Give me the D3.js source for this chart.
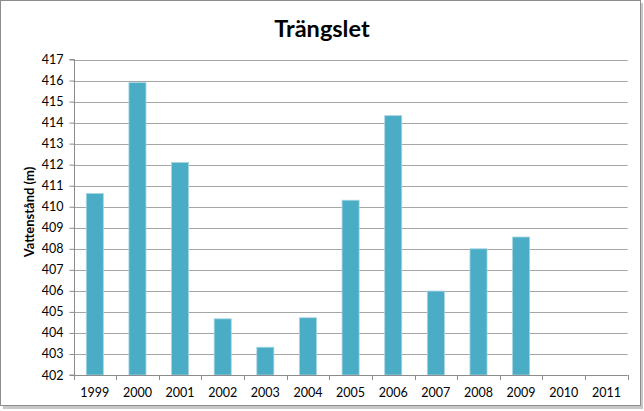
<!DOCTYPE html>
<html>
<head>
<meta charset="utf-8">
<script src="https://cdn.jsdelivr.net/npm/d3@7"></script>
<style>
  html, body { margin: 0; padding: 0; background: #fff; }
  svg { display: block; }
  text { font-family: Lato, "Open Sans", sans-serif; fill: #000; }
</style>
</head>
<body>
<svg id="chart" width="644" height="411"></svg>
<script>
const years = ["1999","2000","2001","2002","2003","2004","2005","2006","2007","2008","2009","2010","2011"];
const values = [410.63, 415.9, 412.1, 404.67, 403.32, 404.72, 410.31, 414.33, 405.99, 408.0, 408.56, null, null];
const yTicks = d3.range(402, 418, 1);
const title = "Trängslet";
const yTitle = "Vattenstånd (m)";

const svg = d3.select("#chart");

// frame with shadow
svg.append("rect").attr("x", 3).attr("y", 3).attr("width", 640).attr("height", 406).attr("fill", "#c8c8c8");
svg.append("rect").attr("x", 0.5).attr("y", 0.5).attr("width", 640).attr("height", 405)
  .attr("fill", "#fff").attr("stroke", "#8c8c8c").attr("stroke-width", 1);

const m = { left: 73.5, right: 627.7, top: 59.5, bottom: 375 };

const x = d3.scaleBand().domain(years).range([m.left, m.right]).paddingInner(0.6).paddingOuter(0.3);
const xb = d3.scaleBand().domain(years).range([m.left, m.right]);
const y = d3.scaleLinear().domain([402, 417]).range([m.bottom, m.top]);

// gridlines
svg.append("g").selectAll("line").data(yTicks.filter(d => d > 402)).join("line")
  .attr("x1", m.left).attr("x2", m.right)
  .attr("y1", d => Math.round(y(d)) + 0.5).attr("y2", d => Math.round(y(d)) + 0.5)
  .attr("stroke", "#a6a6a6").attr("stroke-width", 1);

// bars
svg.append("g").selectAll("rect").data(years.map((yr, i) => ({ yr, v: values[i] })).filter(d => d.v != null)).join("rect")
  .attr("x", d => x(d.yr)).attr("width", x.bandwidth())
  .attr("y", d => y(d.v)).attr("height", d => y(402) - y(d.v))
  .attr("fill", "#4bacc6").attr("stroke", "#a5d5e3").attr("stroke-width", 0.8);

// y axis
const yAxis = d3.axisLeft(y).tickValues(yTicks).tickSize(5).tickPadding(6).tickFormat(d3.format("d"));
const gy = svg.append("g").attr("transform", `translate(${Math.round(m.left) + 0.5},0)`).call(yAxis);
gy.select(".domain").attr("stroke", "#8c8c8c").attr("d", `M-5,${m.bottom}H0V${m.top}H-5`);
gy.selectAll(".tick line").attr("stroke", "#8c8c8c");
gy.selectAll(".tick text").style("font-size", "12.5px").style("font-family", "Lato, sans-serif").attr("fill", "#000");

// x axis
const xAxis = d3.axisBottom(xb).tickSize(0).tickPadding(13);
const gx = svg.append("g").attr("transform", `translate(0,${m.bottom + 0.5})`).call(xAxis);
gx.select(".domain").attr("stroke", "#8c8c8c").attr("d", `M${m.left},0H${m.right}`);
gx.selectAll(".tick text").style("font-size", "12.5px").style("font-family", "Lato, sans-serif").attr("fill", "#000");
// category boundary tick marks
svg.append("g").selectAll("line").data(years.concat(["end"])).join("line")
  .attr("x1", (d, i) => Math.round(m.left + i * xb.bandwidth()) + 0.5)
  .attr("x2", (d, i) => Math.round(m.left + i * xb.bandwidth()) + 0.5)
  .attr("y1", m.bottom).attr("y2", m.bottom + 5)
  .attr("stroke", "#8c8c8c");

// title
svg.append("text").attr("x", 322).attr("y", 37).attr("text-anchor", "middle")
  .style("font-size", "23.5px").style("font-weight", "bold").text(title);

// y title
svg.append("text").attr("transform", `translate(34,212) rotate(-90)`)
  .attr("text-anchor", "middle").style("font-size", "13px").style("font-weight", "bold").text(yTitle);
</script>
</body>
</html>
